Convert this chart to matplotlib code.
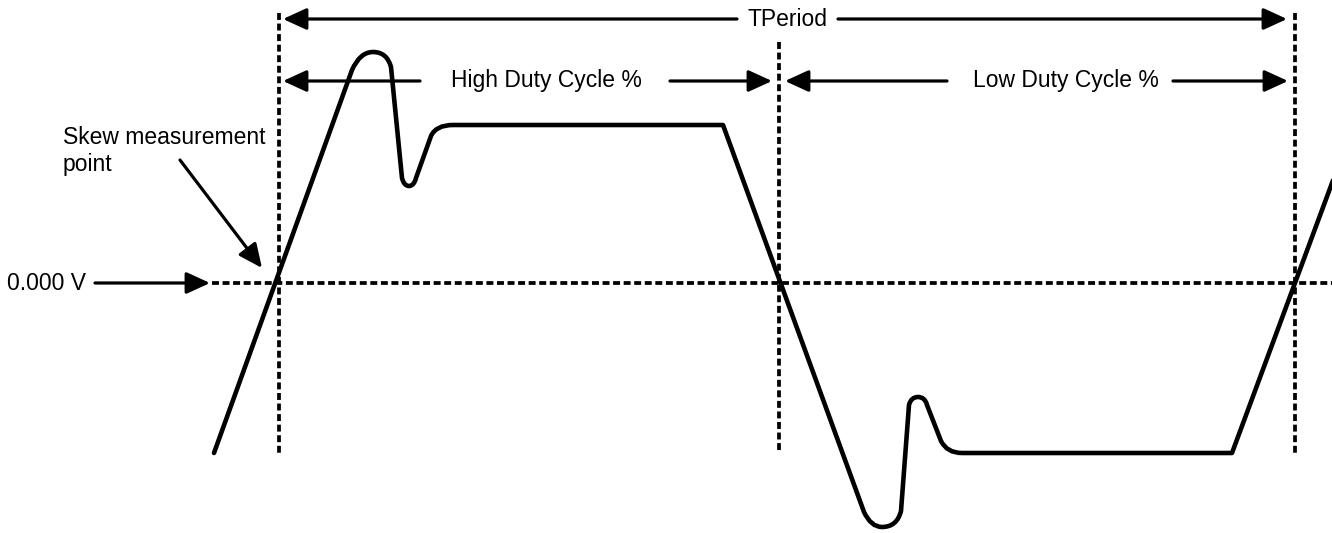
import matplotlib
matplotlib.use("Agg")
import matplotlib.pyplot as plt
from matplotlib.path import Path
from matplotlib.patches import PathPatch

plt.rcParams['font.family'] = ['Liberation Sans', 'DejaVu Sans']
plt.rcParams['lines.scale_dashes'] = False

# waveform vertices in picture units (x = time, y = level, 0 V at y=283)
# seg: M = move, L = line, C = quadratic curve (control point + end point)
wave_t = [214, 352, 360, 373, 387, 391, 402, 404, 409, 414, 416, 431, 436, 453,
          723, 864, 871, 882, 897, 901, 909, 911, 918, 925, 927, 941, 947, 962,
          1232, 1345]
wave_v = [453, 70, 52, 52, 52, 67, 178, 186, 186, 186, 178, 136, 125, 125,
          125, 512, 527, 527, 527, 511, 405, 397, 397, 397, 405, 441, 453, 453,
          453, 148]
wave_seg = ['M', 'L', 'C', 'C', 'C', 'C', 'L', 'C', 'C', 'C', 'C', 'L', 'C', 'C',
            'L', 'L', 'C', 'C', 'C', 'C', 'L', 'C', 'C', 'C', 'C', 'L', 'C', 'C',
            'L', 'L']

zero_level = 283
zero_start = 212
marker_x = [279, 779, 1295]
marker_top = [13, 42, 13]
marker_bottom = [454, 452, 454]

# dimension arrows: (label, y, left tip, left tail, text x, right tail, right tip)
spans = [
    ("TPeriod", 19, 283, 737, 788, 838, 1287),
    ("High Duty Cycle %", 81, 283, 420, 546, 670, 772),
    ("Low Duty Cycle %", 81, 785, 947, 1066, 1173, 1288),
]

fig = plt.figure(figsize=(13.32, 5.33), dpi=100)
ax = fig.add_axes([0, 0, 1, 1])
ax.set_xlim(0, 1332)
ax.set_ylim(533, 0)
ax.axis('off')

dash = (0, (5.0, 2.6))
ax.plot([zero_start, 1332], [zero_level, zero_level], color='black', lw=2.7,
        linestyle=dash, dash_capstyle='butt')
for x, top, bot in zip(marker_x, marker_top, marker_bottom):
    ax.plot([x, x], [top, bot], color='black', lw=2.7, linestyle=dash,
            dash_capstyle='butt')

codes_map = {'M': Path.MOVETO, 'L': Path.LINETO, 'C': Path.CURVE3}
wave = Path(list(zip(wave_t, wave_v)), [codes_map[s] for s in wave_seg])
ax.add_patch(PathPatch(wave, facecolor='none', edgecolor='black', lw=3.3,
                       capstyle='round', joinstyle='round'))

arrow_kw = dict(arrowstyle='-|>,head_length=0.72,head_width=0.33',
                mutation_scale=20, color='black', lw=2.3, shrinkA=0, shrinkB=0)

for label, y, ltip, ltail, tx, rtail, rtip in spans:
    ax.annotate('', xy=(ltip, y), xytext=(ltail, y), arrowprops=arrow_kw)
    ax.annotate('', xy=(rtip, y), xytext=(rtail, y), arrowprops=arrow_kw)
    ax.text(tx, y, label, fontsize=16.5, ha='center', va='center')

ax.annotate('', xy=(210, zero_level), xytext=(95, zero_level), arrowprops=arrow_kw)
ax.text(7, zero_level, "0.000 V", fontsize=16.5, ha='left', va='center')

ax.annotate('', xy=(262, 268), xytext=(180, 160), arrowprops=arrow_kw)
ax.text(63, 151, "Skew measurement\npoint", fontsize=16.5, ha='left', va='center',
        linespacing=1.2)

fig.savefig("out.png", dpi=100, facecolor='white')
